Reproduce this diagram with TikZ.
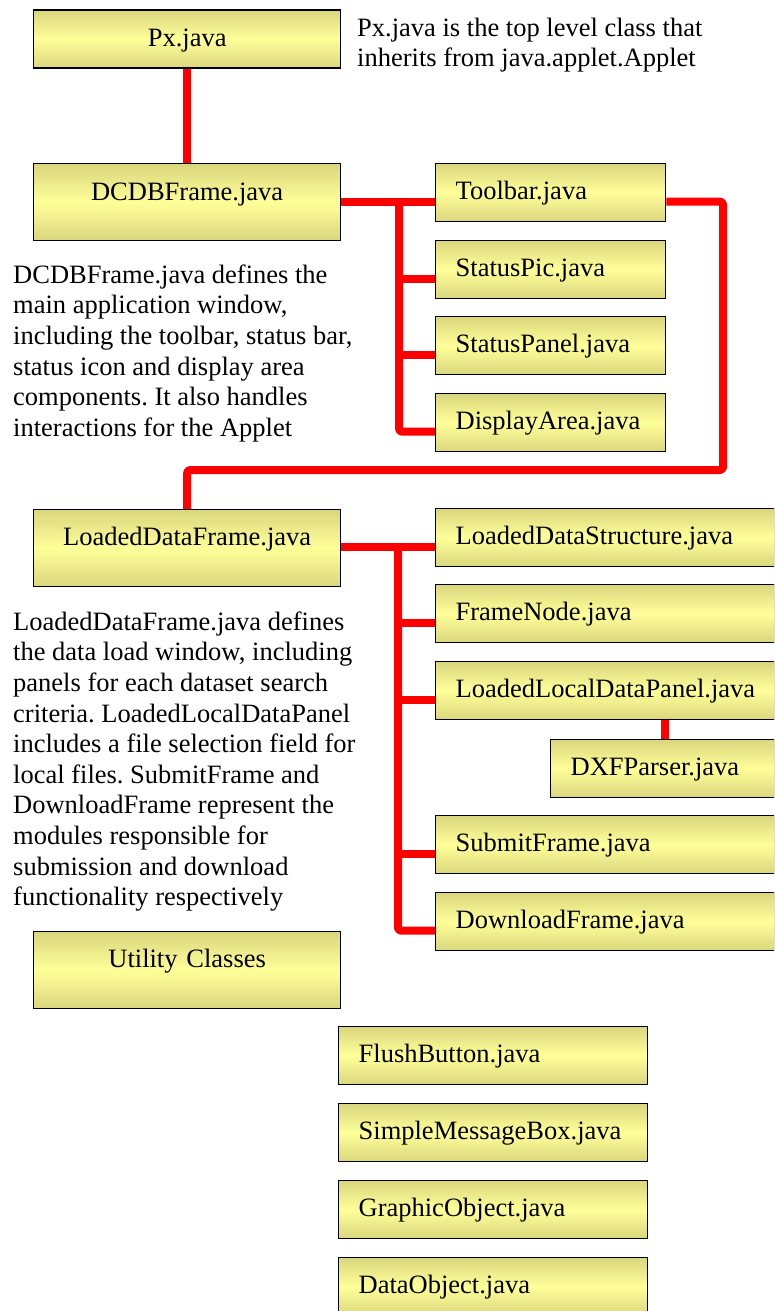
\documentclass[tikz,border=0pt]{standalone}
\usepackage{fontspec}
\setmainfont{Liberation Serif}
\usetikzlibrary{backgrounds}
\frenchspacing
\definecolor{boxlight}{HTML}{FFFF99}
\definecolor{boxdark}{HTML}{DAD67E}
\definecolor{wirered}{HTML}{FF0000}
\newcommand\diagfont{\fontsize{26.5}{30.6}\selectfont}
\tikzset{
  classbox/.style={draw=black, line width=1.3pt,
    top color=boxdark, bottom color=boxdark, middle color=boxlight,
    inner ysep=0pt, inner xsep=20pt, anchor=north west,
    text height=36pt, text depth=22pt, font=\diagfont},
  leftbox/.style={classbox, text width=267pt, align=center},
  tallbox/.style={leftbox, text depth=41pt},
  rightbox/.style={classbox, align=left},
  note/.style={anchor=north west, inner sep=0pt, align=left, font=\diagfont},
  wire/.style={draw=wirered, line width=8pt, line join=round, rounded corners=3pt}
}
\begin{document}
\begin{tikzpicture}[x=1pt, y=-1pt]
\useasboundingbox (0,0) rectangle (774,1311);
\clip (0,0) rectangle (774,1311);

% top level applet and main window
\node[leftbox] (px) at (33,9.5) {Px.java};
\node[tallbox, text height=37pt, text depth=40pt] (dcdb) at (33,163) {DCDBFrame.java};

% components of the main window
\node[rightbox, text width=190pt] (tb)  at (435,163) {Toolbar.java};
\node[rightbox, text width=190pt] (spic) at (435,240) {StatusPic.java};
\node[rightbox, text width=190pt] (span) at (435,316) {StatusPanel.java};
\node[rightbox, text width=190pt] (da)  at (435,393) {DisplayArea.java};

% data load window and its modules
\node[tallbox] (ldf) at (33,509) {LoadedDataFrame.java};
\node[rightbox, text width=299pt] (lds)  at (435,508) {LoadedDataStructure.java};
\node[rightbox, text width=299pt] (fn)   at (435,584) {FrameNode.java};
\node[rightbox, text width=299pt] (lldp) at (435,661) {LoadedLocalDataPanel.java};
\node[rightbox, text width=184pt] (dxf)  at (550,739) {DXFParser.java};
\node[rightbox, text width=299pt] (sf)   at (435,815) {SubmitFrame.java};
\node[rightbox, text width=299pt] (dlf)  at (435,892) {DownloadFrame.java};

% utility classes
\node[tallbox] (util) at (33,931) {Utility Classes};
\node[rightbox, text width=269pt] (fb)  at (338,1026) {FlushButton.java};
\node[rightbox, text width=269pt] (smb) at (338,1103) {SimpleMessageBox.java};
\node[rightbox, text width=269pt] (go)  at (338,1180) {GraphicObject.java};
\node[rightbox, text width=269pt] (dob) at (338,1257) {DataObject.java};

% descriptions
\node[note] (pxnote) at (357,14.6) {\strut Px.java is the top level class that\\inherits from java.applet.Applet};
\node[note] (dcdbnote) at (13,261.6) {\strut DCDBFrame.java defines the\\main application window,\\including the toolbar, status bar,\\status icon and display area\\components. It also handles\\interactions for the Applet};
\node[note] (ldfnote) at (13,608.6) {\strut LoadedDataFrame.java defines\\the data load window, including\\panels for each dataset search\\criteria. LoadedLocalDataPanel\\includes a file selection field for\\local files. SubmitFrame and\\DownloadFrame represent the\\modules responsible for\\submission and download\\functionality respectively};

% connectors, kept behind the boxes
\coordinate (busA) at (399,0);
\coordinate (busB) at (398,0);
\coordinate (turn) at (723,470);
\coordinate (dxfx) at (665,0);
\begin{pgfonlayer}{background}
  \draw[wire] (px.south) -- (dcdb.north);
  \draw[wire] ([yshift=-2pt]tb.base west) -- ([yshift=-2pt]tb.base west -| dcdb.east);
  \draw[wire] ([yshift=-2pt]tb.base west -| busA) |- ([yshift=-2pt]da.base west);
  \draw[wire] ([yshift=-2pt]spic.base west -| busA) -- ([yshift=-2pt]spic.base west);
  \draw[wire] ([yshift=-2pt]span.base west -| busA) -- ([yshift=-2pt]span.base west);
  \draw[wire] ([yshift=-2pt]tb.base east) -| (turn) -| (ldf.north);
  \draw[wire] ([yshift=-2pt]lds.base west) -- ([yshift=-2pt]lds.base west -| ldf.east);
  \draw[wire] ([yshift=-2pt]lds.base west -| busB) |- ([yshift=-2pt]dlf.base west);
  \draw[wire] ([yshift=-2pt]fn.base west -| busB) -- ([yshift=-2pt]fn.base west);
  \draw[wire] ([yshift=-2pt]lldp.base west -| busB) -- ([yshift=-2pt]lldp.base west);
  \draw[wire] ([yshift=-2pt]sf.base west -| busB) -- ([yshift=-2pt]sf.base west);
  \draw[wire, rounded corners=0pt] (lldp.south -| dxfx) -- (dxf.north -| dxfx);
\end{pgfonlayer}
\end{tikzpicture}
\end{document}
